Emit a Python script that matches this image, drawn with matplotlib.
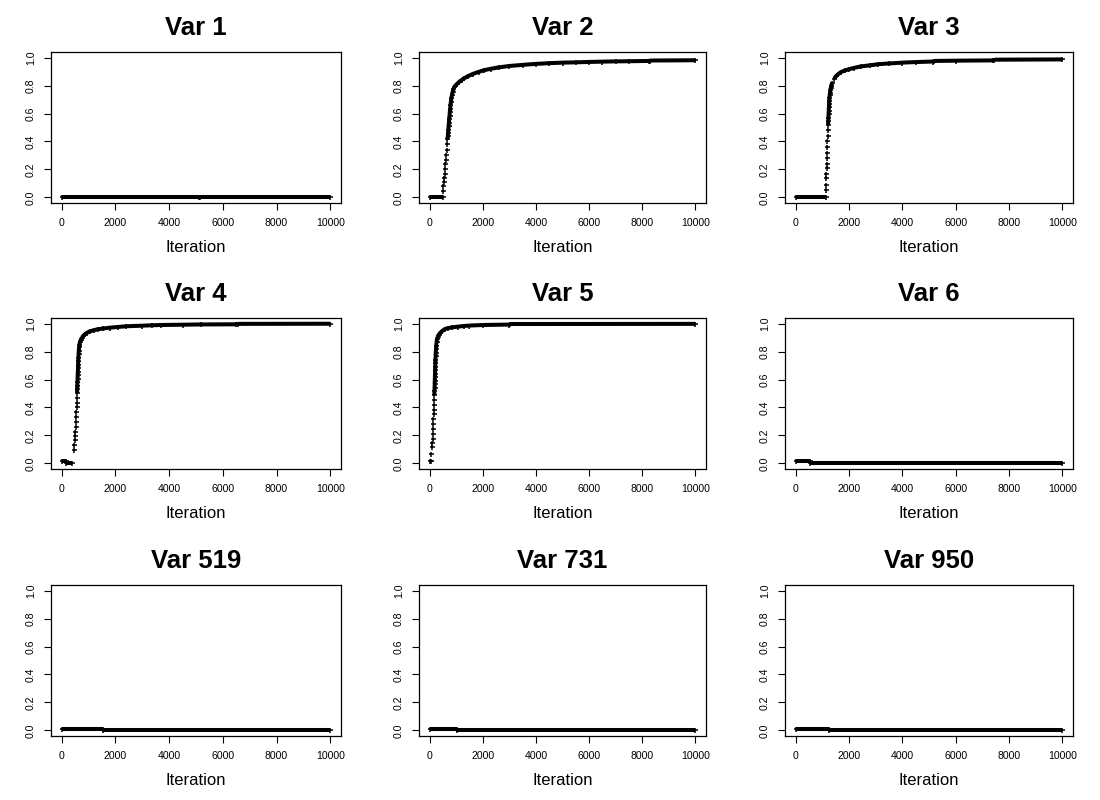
import matplotlib
matplotlib.use("Agg")
import matplotlib.pyplot as plt
from matplotlib.collections import LineCollection
import numpy as np

plt.rcParams['font.family'] = ['Liberation Sans', 'DejaVu Sans']

titles = ["Var 1", "Var 2", "Var 3", "Var 4", "Var 5", "Var 6",
          "Var 519", "Var 731", "Var 950"]

# running inclusion probability
var1_iter = [0, 5130, 5140, 10000]
var1_prob = [0.006, 0.006, 0.001, 0.001]

var2_iter = [0, 500, 505, 520, 530, 548, 560, 572, 590, 605, 620, 640, 655, 670,
             685, 695, 705, 715, 725, 735, 748, 760, 772, 785, 800, 818, 840, 865,
             895, 930, 970, 1020, 1100, 1200, 1300, 1450, 1650, 1850, 2050, 2300,
             2600, 3000, 3500, 4000, 4500, 5000, 5500, 6000, 6500, 7000, 7500,
             8250, 8300, 10000]
var2_prob = [0.005, 0.005, 0.044, 0.08, 0.11, 0.14, 0.17, 0.20, 0.24, 0.27, 0.30,
             0.34, 0.38, 0.415, 0.44, 0.46, 0.485, 0.51, 0.535, 0.56, 0.585, 0.61,
             0.635, 0.66, 0.685, 0.71, 0.735, 0.755, 0.775, 0.79, 0.80, 0.81, 0.825,
             0.84, 0.852, 0.868, 0.885, 0.898, 0.91, 0.92, 0.93, 0.94, 0.948, 0.955,
             0.96, 0.964, 0.966, 0.969, 0.971, 0.973, 0.974, 0.976, 0.979, 0.981]

var3_iter = [0, 1120, 1125, 1130, 1145, 1150, 1160, 1165, 1170, 1178, 1185, 1192,
             1200, 1208, 1215, 1222, 1228, 1234, 1240, 1246, 1252, 1259, 1266, 1275,
             1287, 1300, 1315, 1335, 1370, 1450, 1500, 1600, 1700, 1850, 2000, 2200,
             2450, 2800, 3100, 3500, 4000, 4500, 5150, 5200, 6000, 7400, 7450, 10000]
var3_prob = [0.005, 0.005, 0.05, 0.09, 0.14, 0.17, 0.21, 0.24, 0.28, 0.32, 0.36,
             0.40, 0.44, 0.48, 0.52, 0.545, 0.57, 0.595, 0.62, 0.645, 0.67, 0.69,
             0.71, 0.73, 0.75, 0.765, 0.78, 0.80, 0.82, 0.85, 0.865, 0.882, 0.897,
             0.908, 0.917, 0.927, 0.937, 0.945, 0.953, 0.958, 0.964, 0.968, 0.972,
             0.976, 0.978, 0.98, 0.985, 0.987]

var4_iter = [0, 170, 175, 400, 448, 473, 490, 500, 512, 522, 530, 538, 545, 552,
             558, 564, 570, 575, 580, 585, 590, 595, 600, 605, 610, 615, 620, 627,
             635, 645, 660, 680, 710, 750, 800, 870, 950, 1050, 1200, 1350, 1550,
             1800, 2100, 2400, 3000, 3350, 3700, 4500, 5200, 6500, 6550, 10000]
var4_prob = [0.014, 0.014, 0.006, 0.006, 0.096, 0.13, 0.165, 0.195, 0.225, 0.26,
             0.295, 0.33, 0.365, 0.40, 0.435, 0.47, 0.505, 0.53, 0.555, 0.58, 0.605,
             0.63, 0.655, 0.68, 0.705, 0.73, 0.755, 0.78, 0.805, 0.83, 0.85, 0.87,
             0.885, 0.90, 0.912, 0.925, 0.936, 0.945, 0.953, 0.96, 0.965, 0.971,
             0.976, 0.981, 0.985, 0.988, 0.99, 0.992, 0.994, 0.995, 0.998, 0.999]

var5_iter = [0, 40, 62, 87, 100, 110, 118, 126, 134, 142, 150, 158, 166, 172, 178,
             182, 186, 190, 194, 198, 202, 206, 210, 214, 218, 224, 230, 238, 248,
             260, 276, 300, 340, 400, 480, 580, 700, 850, 1050, 1300, 1500, 2000,
             3000, 3020, 10000]
var5_prob = [0.014, 0.014, 0.07, 0.115, 0.145, 0.175, 0.21, 0.245, 0.28, 0.315,
             0.35, 0.385, 0.42, 0.455, 0.49, 0.515, 0.54, 0.565, 0.59, 0.615, 0.64,
             0.665, 0.69, 0.715, 0.74, 0.765, 0.79, 0.815, 0.84, 0.865, 0.888, 0.905,
             0.92, 0.935, 0.948, 0.962, 0.968, 0.973, 0.978, 0.983, 0.986, 0.99,
             0.993, 0.997, 0.998]

var6_iter = [0, 535, 540, 10000]
var6_prob = [0.014, 0.014, 0.005, 0.005]

var519_iter = [0, 1540, 1550, 10000]
var519_prob = [0.007, 0.007, 0.001, 0.001]

var731_iter = [0, 1020, 1030, 10000]
var731_prob = [0.007, 0.007, 0.001, 0.001]

var950_iter = [0, 1240, 1250, 10000]
var950_prob = [0.007, 0.007, 0.001, 0.001]

iters = [var1_iter, var2_iter, var3_iter, var4_iter, var5_iter, var6_iter,
         var519_iter, var731_iter, var950_iter]
probs = [var1_prob, var2_prob, var3_prob, var4_prob, var5_prob, var6_prob,
         var519_prob, var731_prob, var950_prob]

xticks = [0, 2000, 4000, 6000, 8000, 10000]
yticks = [0.0, 0.2, 0.4, 0.6, 0.8, 1.0]

# panel boxes in pixels (left, top) on a 1100x800 canvas
col_left = [51, 419, 785]
col_width = [290, 287, 288]
row_top = [52, 318, 585]
box_h = 151

fig = plt.figure(figsize=(11, 8), dpi=100)

for i in range(9):
    r, c = divmod(i, 3)
    ax = fig.add_axes([col_left[c] / 1100, 1 - (row_top[r] + box_h) / 800,
                       col_width[c] / 1100, box_h / 800])
    x = np.array(iters[i], dtype=float)
    y = np.array(probs[i], dtype=float)

    # dense stretches look like a solid thick band, sparse jumps show single '+'
    pts = np.column_stack([x, y])
    segs = np.stack([pts[:-1], pts[1:]], axis=1)
    keep = np.abs(np.diff(y)) < 0.028
    ax.add_collection(LineCollection(segs[keep], colors='black', linewidths=2.9,
                                     capstyle='butt'))
    ax.plot(x, y, linestyle='none', marker='+', ms=3.6, mew=1.1, color='black')

    ax.set_xlim(-400, 10400)
    ax.set_ylim(-0.04, 1.04)
    ax.set_xticks(xticks)
    ax.set_xticklabels([str(t) for t in xticks])
    ax.set_yticks(yticks)
    ax.set_yticklabels(["%.1f" % t for t in yticks], rotation=90, va='center')
    ax.tick_params(direction='out', length=5, width=0.8, labelsize=7.6, pad=6,
                   colors='black')
    for s in ax.spines.values():
        s.set_linewidth(0.9)
    ax.set_title(titles[i], fontsize=18.5, fontweight='bold', pad=12)
    ax.annotate("Iteration", xy=(0.5, 0), xycoords='axes fraction',
                xytext=(0, -35), textcoords='offset points',
                ha='center', va='baseline', fontsize=12)

plt.savefig("out.png", dpi=100)
